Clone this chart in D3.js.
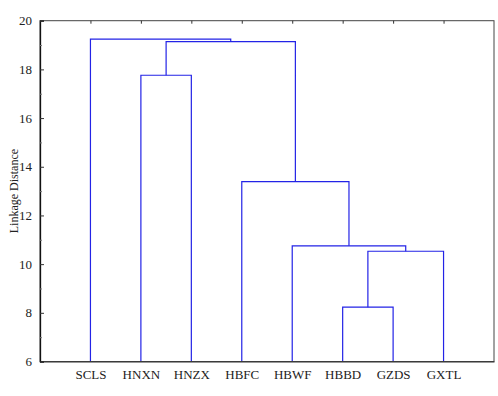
<!DOCTYPE html>
<html>
<head>
<meta charset="utf-8">
<script src="https://cdn.jsdelivr.net/npm/d3@7"></script>
<style>
  html, body { margin: 0; padding: 0; background: #fff; }
  svg { display: block; }
  text { font-family: "Liberation Serif", "Times New Roman", serif; fill: #222; }
</style>
</head>
<body>
<svg id="chart" width="498" height="396"></svg>
<script>
// ---- data ----
const leaves = ["SCLS", "HNXN", "HNZX", "HBFC", "HBWF", "HBBD", "GZDS", "GXTL"];
// merges: [left child, right child, linkage distance]; children are leaf names or merge ids (m0, m1, ...)
const mergeLeft   = ["HBBD", "m0",   "HBWF", "HBFC", "HNXN", "m4", "SCLS"];
const mergeRight  = ["GZDS", "GXTL", "m1",   "m2",   "HNZX", "m3", "m5"];
const mergeHeight = [8.23,   10.53,  10.75,  13.39,  17.76,  19.14, 19.24];
const yTicks = [6, 8, 10, 12, 14, 16, 18, 20];
const yMinorTicks = [7, 9, 11, 13, 15, 17, 19];

// ---- layout ----
const W = 498, H = 396;
const m = { left: 40, right: 4, top: 20.7, bottom: 34.5 };
const svg = d3.select("#chart");

const x = d3.scalePoint().domain(leaves).range([m.left, W - m.right]).padding(1);
const y = d3.scaleLinear().domain([6, 20]).range([H - m.bottom, m.top]);

// build node table
const nodes = {};
leaves.forEach(l => nodes[l] = { x: x(l), h: 6 });
mergeHeight.forEach((h, i) => {
  const a = nodes[mergeLeft[i]], b = nodes[mergeRight[i]];
  nodes["m" + i] = { x: (a.x + b.x) / 2, h: h, a: a, b: b };
});

const lineColor = "#2323e6";
const g = svg.append("g");
mergeHeight.forEach((h, i) => {
  const n = nodes["m" + i];
  const p = d3.path();
  p.moveTo(n.a.x, y(n.a.h));
  p.lineTo(n.a.x, y(h));
  p.lineTo(n.b.x, y(h));
  p.lineTo(n.b.x, y(n.b.h));
  g.append("path").attr("d", p.toString())
    .attr("fill", "none").attr("stroke", lineColor).attr("stroke-width", 1.2);
});

// frame
svg.append("rect")
  .attr("x", m.left).attr("y", m.top)
  .attr("width", W - m.right - m.left).attr("height", H - m.bottom - m.top)
  .attr("fill", "none").attr("stroke", "#444").attr("stroke-width", 1);

// left axis (ticks inward)
const yAxis = d3.axisLeft(y).tickValues(yTicks).tickSize(-4).tickPadding(8).tickFormat(d3.format("d"));
const ya = svg.append("g").attr("transform", `translate(${m.left},0)`).call(yAxis);
ya.select(".domain").attr("stroke", "#111").attr("stroke-width", 1.3);
ya.selectAll("text").style("font-size", "13px").style("font-family", "Liberation Serif, serif").attr("fill", "#222");
ya.selectAll("line").attr("stroke", "#333");

const yMinor = d3.axisLeft(y).tickValues(yMinorTicks).tickSize(-2).tickFormat("");
const ym = svg.append("g").attr("transform", `translate(${m.left},0)`).call(yMinor);
ym.select(".domain").remove();
ym.selectAll("line").attr("stroke", "#777");

// top ticks at leaves (pointing down)
const xTop = d3.axisTop(x).tickSize(-3).tickFormat("");
const xt = svg.append("g").attr("transform", `translate(0,${m.top})`).call(xTop);
xt.select(".domain").remove();
xt.selectAll("line").attr("stroke", "#333");

// bottom axis labels
const xBottom = d3.axisBottom(x).tickSize(0).tickPadding(8);
const xb = svg.append("g").attr("transform", `translate(0,${H - m.bottom})`).call(xBottom);
xb.select(".domain").attr("stroke", "#333");
xb.selectAll("text").style("font-size", "13px").style("font-family", "Liberation Serif, serif").attr("fill", "#222");

// y label
svg.append("text")
  .attr("transform", `translate(18,${(m.top + H - m.bottom) / 2}) rotate(-90)`)
  .attr("text-anchor", "middle")
  .style("font-size", "12px")
  .text("Linkage Distance");
</script>
</body>
</html>
